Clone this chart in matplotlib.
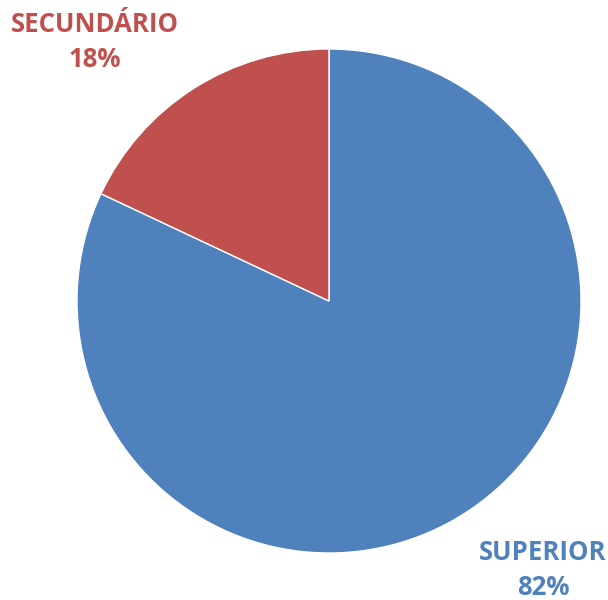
import matplotlib
matplotlib.use("Agg")
import matplotlib.pyplot as plt

labels = ["SUPERIOR", "SECUNDÁRIO"]
values = [82, 18]
colors = ["#4F81BD", "#C0504D"]

fig = plt.figure(figsize=(6.08, 6.00), dpi=100)
ax = fig.add_axes([0, 0, 1, 1])

ax.pie(values, colors=colors, startangle=90, counterclock=False,
       center=(329, 299), radius=252,
       wedgeprops=dict(edgecolor="white", linewidth=1))
# pie resets the limits, so put them back afterwards
ax.set_xlim(0, 608)
ax.set_ylim(0, 600)
ax.set_aspect("equal")
ax.axis("off")

fnt = dict(family="Open Sans", fontweight="bold", fontsize=18.5,
           ha="center", va="center", linespacing=1.42)
ax.text(95, 558, "%s\n%d%%" % (labels[1], values[1]), color=colors[1], **fnt)
ax.text(543, 30, "%s\n%d%%" % (labels[0], values[0]), color=colors[0], **fnt)

fig.savefig("out.png", dpi=100)
